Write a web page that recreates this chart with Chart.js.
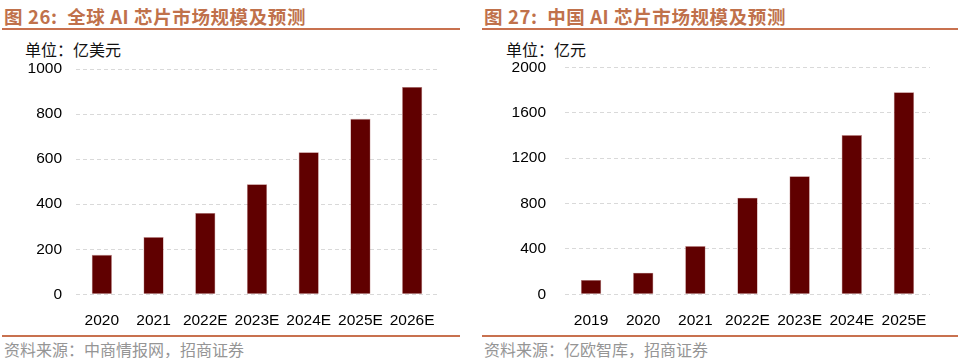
<!DOCTYPE html>
<html>
<head>
<meta charset="utf-8">
<script src="https://cdn.jsdelivr.net/npm/chart.js@4"></script>
<style>
  body { margin: 0; width: 959px; height: 358px; background: #fff; position: relative; overflow: hidden; }
  .title { position: absolute; top: 3px; font: bold 18.5px "Noto Sans CJK SC", sans-serif; color: #c0714b; white-space: pre; letter-spacing: 0.6px; }
  .rule { position: absolute; height: 2px; background: #c8714f; }
  .unit { position: absolute; top: 37px; font: 16px "Noto Sans CJK SC", sans-serif; color: #111; white-space: nowrap; }
  .src { position: absolute; top: 337px; font: 16px "Noto Sans CJK SC", sans-serif; color: #959595; white-space: nowrap; }
  .box { position: absolute; top: 60px; height: 270px; }
</style>
</head>
<body>
<div class="title" style="left:4px">图 26:  全球 AI 芯片市场规模及预测</div>
<div class="title" style="left:484px">图 27:  中国 AI 芯片市场规模及预测</div>
<div class="rule" style="left:2px;width:458px;top:28px"></div>
<div class="rule" style="left:482px;width:476px;top:28px"></div>
<div class="unit" style="left:25px">单位：亿美元</div>
<div class="unit" style="left:506px">单位：亿元</div>
<div class="box" style="left:0;width:460px"><canvas id="global"></canvas></div>
<div class="box" style="left:480px;width:479px"><canvas id="china"></canvas></div>
<div class="rule" style="left:2px;width:458px;top:335px"></div>
<div class="rule" style="left:482px;width:476px;top:335px"></div>
<div class="src" style="left:4px">资料来源：中商情报网，招商证券</div>
<div class="src" style="left:484px">资料来源：亿欧智库，招商证券</div>

<script>
// 全球 AI 芯片市场规模（亿美元）
const globalYears = ['2020', '2021', '2022E', '2023E', '2024E', '2025E', '2026E'];
const globalValues = [175, 254, 361, 489, 631, 779, 920];
const globalTicks = [0, 200, 400, 600, 800, 1000];

// 中国 AI 芯片市场规模（亿元）
const chinaYears = ['2019', '2020', '2021', '2022E', '2023E', '2024E', '2025E'];
const chinaValues = [126, 190, 425, 851, 1040, 1403, 1780];
const chinaTicks = [0, 400, 800, 1200, 1600, 2000];

const BAR = '#600000';
const tickFont = { family: '"Liberation Sans", Arial, sans-serif', size: 15.5 };

function makeChart(id, labels, values, ticks, opts) {
  const ctx = document.getElementById(id).getContext('2d');
  return new Chart(ctx, {
    type: 'bar',
    data: {
      labels: labels,
      datasets: [{
        data: values,
        backgroundColor: BAR,
        borderColor: 'rgba(150,60,60,0.6)',
        borderWidth: 0.6,
        barPercentage: 0.39,
        categoryPercentage: 1
      }]
    },
    options: {
      responsive: true,
      maintainAspectRatio: false,
      animation: false,
      layout: { padding: { top: opts.top, right: opts.right, left: 0, bottom: 0 } },
      plugins: { legend: { display: false }, tooltip: { enabled: false } },
      scales: {
        x: {
          grid: { display: false },
          border: { display: false },
          ticks: { color: '#000', font: tickFont, padding: 9, maxRotation: 0, autoSkip: false },
          afterFit: s => { s.height = 35.7; s.paddingLeft = 0; s.paddingRight = 0; }
        },
        y: {
          min: 0,
          max: ticks[ticks.length - 1],
          afterBuildTicks: s => { s.ticks = ticks.map(v => ({ value: v })); },
          grid: { color: '#d9d9d9', drawTicks: false, lineWidth: 1 },
          border: { display: false, dash: [4, 3] },
          ticks: { color: '#000', font: tickFont, padding: opts.pad, callback: v => String(v) },
          afterFit: s => { s.width = opts.axisW; s.paddingTop = 0; s.paddingBottom = 0; }
        }
      }
    }
  });
}

makeChart('global', globalYears, globalValues, globalTicks, { top: 9, right: 22, axisW: 76, pad: 14 });
makeChart('china', chinaYears, chinaValues, chinaTicks, { top: 7.3, right: 29, axisW: 85, pad: 19 });
</script>
</body>
</html>
